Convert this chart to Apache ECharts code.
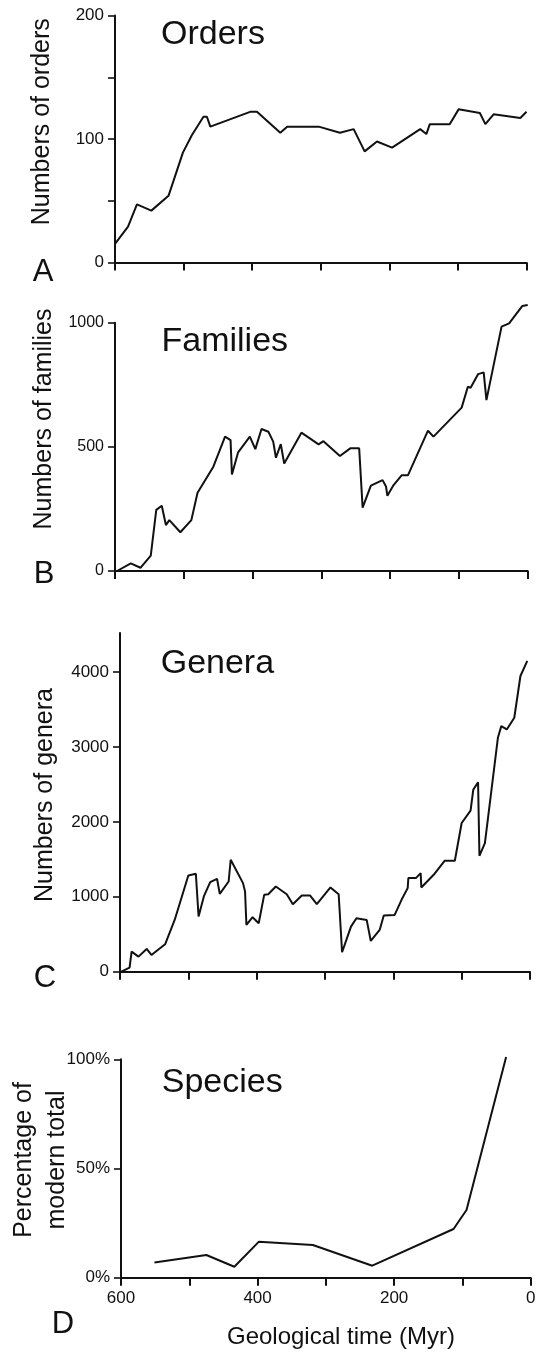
<!DOCTYPE html>
<html><head><meta charset="utf-8">
<script src="https://cdn.jsdelivr.net/npm/echarts@6/dist/echarts.min.js"></script>
<style>html,body{margin:0;padding:0;background:#fff}#c{width:536px;height:1355px}</style>
</head><body><div id="c"></div>
<script>
// ---- data (time in Myr before present) ----
const ordersTime  = [600,581,568,547,522,501,488,471,466,461,403,393,359,349,303,272,252,236,218,196,155,146,141,112,99,68,60,48,9,0];
const ordersCount = [15,29,47,42,54,89,103,118,118,110,122,122,105,110,110,105,108,90,98,93,108,104,112,112,124,121,112,120,117,122];

const familiesTime  = [597,577,563,548,540,532,526,521,505,489,480,457,440,432,430,421,404,396,387,377,370,366,359,354,329,304,297,273,258,245,240,228,211,206,204,195,183,174,145,137,96,87,83,72,64,60,38,27,8,0];
const familiesCount = [0,31,13,62,246,263,185,205,156,205,315,420,541,527,389,478,541,491,572,561,521,456,511,433,557,510,523,463,494,494,255,344,366,340,303,346,386,386,565,541,658,742,738,793,800,688,984,997,1067,1071];

const generaTime  = [598,586,583,573,561,554,534,520,500,489,485,477,468,458,454,441,438,420,417,415,406,397,389,383,372,356,347,334,322,312,292,280,275,262,254,239,233,220,214,198,188,179,178,167,160,159,141,125,110,100,87,83,76,74,66,47,42,34,23,14,4];
const generaCount = [0,54,268,201,303,223,366,691,1284,1307,736,1012,1195,1240,1039,1204,1494,1182,1070,624,727,647,1026,1034,1137,1034,901,1017,1017,901,1124,1034,259,602,713,691,410,557,749,758,959,1115,1249,1249,1315,1124,1293,1480,1480,1984,2149,2430,2528,1547,1717,3121,3277,3233,3389,3946,4147];

const speciesTime    = [551,475,434,398,319,232,113,94,36];
const speciesPercent = [7,10.4,5,16.5,15,5.5,22.3,31,101];

const timeTicks      = [600,500,400,300,200,100,0];
const timeLabels     = [600,400,200,0];
const ordersTicks    = [0,50,100,150,200];
const ordersLabels   = [0,100,200];
const familiesTicks  = [0,500,1000];
const generaTicks    = [0,1000,2000,3000,4000];
const speciesTicks   = [0,50,100];

const titles     = ['Orders','Families','Genera','Species'];
const letters    = ['A','B','C','D'];
const yNames     = ['Numbers of orders','Numbers of families','Numbers of genera','Percentage of\nmodern total'];
const xName      = 'Geological time (Myr)';

// ---- build ----
const FONT = '"Liberation Sans", Arial, Helvetica, sans-serif';
const INK = '#111';
const zip = (a, b) => a.map((t, i) => [t, b[i]]);

const grids = [
  {left:115, top:15.5,  width:411.5, height:247},
  {left:115, top:322.7, width:412.7, height:248.3},
  {left:120, top:633,   width:410,   height:338.7},
  {left:121, top:1059.3,width:409.7, height:218.4}
].map(g => Object.assign({containLabel:false, outerBoundsMode:'none'}, g));

function xAxis(i, showLabels) {
  return {
    type:'value', gridIndex:i, inverse:true, min:0, max:600, interval:100,
    axisLine:{show:true, onZero:false, lineStyle:{color:INK, width:2}},
    axisTick:{show:true, length:8, lineStyle:{color:INK, width:2}},
    splitLine:{show:false},
    axisLabel:{show:showLabels, color:INK, fontSize:17, fontFamily:FONT, margin:12,
      formatter: v => (timeLabels.indexOf(v) >= 0 ? String(v) : '')}
  };
}
function yAxis(i, max, interval, ticks, labels, fmt) {
  return {
    type:'value', gridIndex:i, min:0, max:max, interval:interval,
    axisLine:{show:true, onZero:false, lineStyle:{color:INK, width:2}},
    axisTick:{show:true, length:7, lineStyle:{color:INK, width:1.6}, customValues:ticks},
    splitLine:{show:false},
    axisLabel:{show:true, color:INK, fontSize:i===1?16:17, fontFamily:FONT, margin:11,
      customValues:labels,
      formatter: v => (labels.indexOf(v) >= 0 ? fmt(v) : '')}
  };
}

function series(i, t, v) {
  return {type:'line', xAxisIndex:i, yAxisIndex:i, data:zip(t, v), symbol:'none',
    showSymbol:false, clip:false, lineStyle:{color:INK, width:2}, silent:true};
}

const titlePos  = [[161,35],[161.5,341.7],[160.7,664],[161.7,1082.5]];
const letterPos = [[43,272],[44,574],[45,978],[63,1324]];
const yNamePos  = [[42,121.7],[44.5,419],[45.5,795],[40.5,1160]];

const graphic = [];
titles.forEach((t, i) => graphic.push({type:'text', x:titlePos[i][0], y:titlePos[i][1],
  style:{text:t, fill:INK, font:'34px ' + FONT, align:'left', verticalAlign:'middle'}}));
letters.forEach((t, i) => graphic.push({type:'text', x:letterPos[i][0], y:letterPos[i][1],
  style:{text:t, fill:INK, font:'31px ' + FONT, align:'center', verticalAlign:'middle'}}));
yNames.forEach((t, i) => graphic.push({type:'text', x:yNamePos[i][0], y:yNamePos[i][1], rotation:Math.PI/2,
  style:{text:t, fill:INK, font:'25px ' + FONT, align:'center', verticalAlign:'middle', lineHeight:33}}));
graphic.push({type:'text', x:341, y:1337,
  style:{text:xName, fill:INK, font:'24px ' + FONT, align:'center', verticalAlign:'middle'}});

const option = {
  animation:false,
  backgroundColor:'#fff',
  textStyle:{fontFamily:FONT},
  grid: grids,
  xAxis:[xAxis(0,false), xAxis(1,false), xAxis(2,false), xAxis(3,true)],
  yAxis:[
    yAxis(0, 200, 50, ordersTicks, ordersLabels, v => String(v)),
    yAxis(1, 1000, 500, familiesTicks, familiesTicks, v => String(v)),
    yAxis(2, 4520, 1000, generaTicks, generaTicks, v => String(v)),
    yAxis(3, 100, 50, speciesTicks, speciesTicks, v => v + '%')
  ],
  series:[
    series(0, ordersTime, ordersCount),
    series(1, familiesTime, familiesCount),
    series(2, generaTime, generaCount),
    series(3, speciesTime, speciesPercent)
  ],
  graphic: graphic
};
const chart = echarts.init(document.getElementById('c'), null, {renderer:'canvas'});
chart.setOption(option);
</script>
</body></html>
